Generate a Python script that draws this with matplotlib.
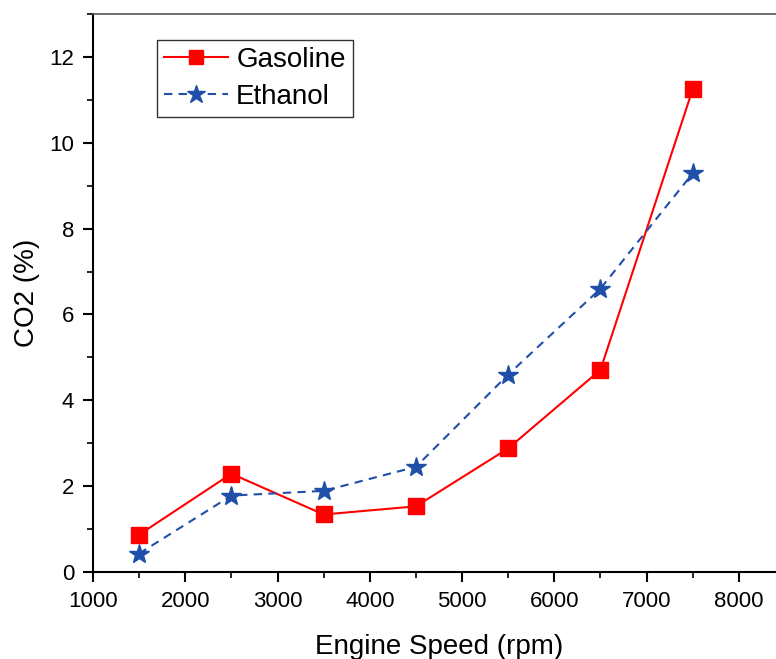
import matplotlib.pyplot as plt
from matplotlib.ticker import MultipleLocator

plt.rcParams['font.family'] = ['Liberation Sans', 'DejaVu Sans']

speed = [1500, 2500, 3500, 4500, 5500, 6500, 7500]
gasoline = [0.87, 2.29, 1.34, 1.53, 2.88, 4.71, 11.25]
ethanol = [0.43, 1.78, 1.89, 2.45, 4.6, 6.6, 9.29]

fig = plt.figure(figsize=(7.76, 6.59), dpi=100)
ax = fig.add_axes([93 / 776, 87 / 659, (785 - 93) / 776, (572 - 14) / 659])

ax.plot(speed, gasoline, color='#ff0000', lw=1.5, marker='s', ms=11.5,
        label='Gasoline')
ax.plot(speed, ethanol, color='#1f4fa8', lw=1.5, ls='--', dashes=(4, 3),
        marker='*', ms=15, label='Ethanol')

ax.set_xlim(1000, 8500)
ax.set_ylim(0, 13)
ax.xaxis.set_major_locator(MultipleLocator(1000))
ax.xaxis.set_minor_locator(MultipleLocator(500))
ax.yaxis.set_major_locator(MultipleLocator(2))
ax.yaxis.set_minor_locator(MultipleLocator(1))
ax.tick_params(which='major', direction='out', length=7.5, width=1.5,
               labelsize=16, pad=6)
ax.tick_params(which='minor', direction='out', length=4, width=1.2)
for s in ['left', 'bottom']:
    ax.spines[s].set_linewidth(1.5)
ax.spines['top'].set_linewidth(1.2)
ax.spines['top'].set_color('#555555')
ax.spines['right'].set_visible(False)

ax.set_xlabel('Engine Speed (rpm)', fontsize=20, labelpad=16)
ax.set_ylabel('CO2 (%)', fontsize=20, labelpad=7)

leg = ax.legend(loc='upper left', bbox_to_anchor=(0.0925, 0.953), fontsize=20,
                frameon=True, fancybox=False, edgecolor='black',
                handlelength=2.3, borderpad=0.25, labelspacing=0.38,
                handletextpad=0.3, borderaxespad=0, markerscale=0.9)
leg.get_frame().set_linewidth(1.0)

fig.savefig('out.png', dpi=100)
